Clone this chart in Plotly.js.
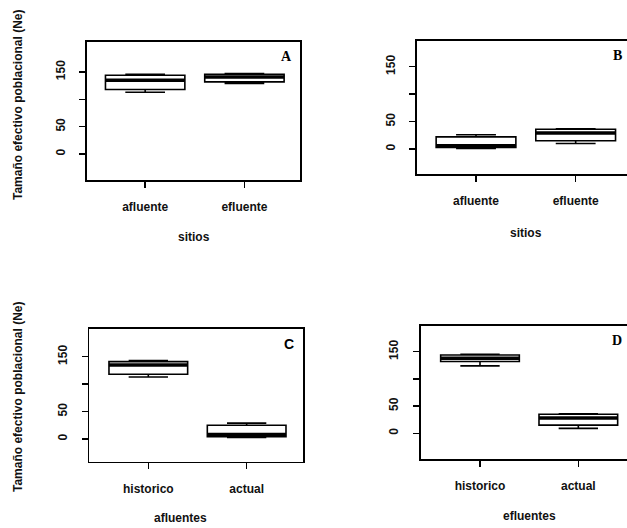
<!DOCTYPE html>
<html>
<head>
<meta charset="utf-8">
<script src="https://cdn.plot.ly/plotly-3.0.1.min.js"></script>
<style>html,body{margin:0;padding:0;background:#fff}</style>
</head>
<body>
<div id="chart" style="width:627px;height:528px"></div>
<script>
// ---- data ----
const sitios = ['afluente', 'efluente'];
const periodos = ['historico', 'actual'];
const yTickVals = [0, 50, 100, 150];
const yTickText = ['0', '50', '', '150'];

// Panel A: sitios
const A_lower = [113, 129];
const A_q1 = [118, 132];
const A_median = [135, 141];
const A_q3 = [144, 146];
const A_upper = [146, 147];

// Panel B: sitios
const B_lower = [1, 10];
const B_q1 = [3, 15];
const B_median = [6, 29];
const B_q3 = [22, 36];
const B_upper = [26, 37];

// Panel C: afluentes
const C_lower = [113, 3];
const C_q1 = [118, 4];
const C_median = [135, 8];
const C_q3 = [141, 25];
const C_upper = [143, 29];

// Panel D: efluentes
const D_lower = [124, 9];
const D_q1 = [132, 15];
const D_median = [138, 28];
const D_q3 = [144, 35];
const D_upper = [145, 36];

const panels = [
  {ax: '', cats: sitios, lower: A_lower, q1: A_q1, med: A_median, q3: A_q3, upper: A_upper,
   letter: 'A', xtitle: 'sitios', ytitle: true},
  {ax: '2', cats: sitios, lower: B_lower, q1: B_q1, med: B_median, q3: B_q3, upper: B_upper,
   letter: 'B', xtitle: 'sitios', ytitle: false},
  {ax: '3', cats: periodos, lower: C_lower, q1: C_q1, med: C_median, q3: C_q3, upper: C_upper,
   letter: 'C', xtitle: 'afluentes', ytitle: true},
  {ax: '4', cats: periodos, lower: D_lower, q1: D_q1, med: D_median, q3: D_q3, upper: D_upper,
   letter: 'D', xtitle: 'efluentes', ytitle: false}
];

// ---- layout geometry ----
const W = 627, H = 528;
const geom = [
  {x: [87, 300], y: [42, 180], xr: [0.414, 2.56], yr: [-47.6, 204.9], mirrorY: true},
  {x: [417, 627], y: [40.7, 174], xr: [0.408, 2.515], yr: [-45.6, 197.4], mirrorY: false},
  {x: [89.3, 303.3], y: [329, 461.7], xr: [0.40, 2.576], yr: [-41.4, 200.5], mirrorY: true},
  {x: [420.7, 627], y: [325.7, 459.3], xr: [0.397, 2.495], yr: [-47.8, 197.8], mirrorY: false}
];
const boxW = 0.8;
const font = {family: 'Liberation Sans, Arial, sans-serif', size: 12, color: '#111', weight: 'bold'};

const traces = [];
const layout = {
  width: W, height: H,
  margin: {l: 0, r: 0, t: 0, b: 0},
  paper_bgcolor: '#fff', plot_bgcolor: '#fff',
  showlegend: false,
  font: font,
  annotations: []
};

panels.forEach((p, i) => {
  const g = geom[i];
  const xa = 'x' + p.ax, ya = 'y' + p.ax;
  const pos = p.cats.map((c, k) => k + 1);
  traces.push({
    type: 'box', xaxis: xa, yaxis: ya,
    x: pos, lowerfence: p.lower, q1: p.q1, median: p.med, q3: p.q3, upperfence: p.upper,
    width: boxW, whiskerwidth: 0.5,
    fillcolor: '#fff', line: {color: '#000', width: 1.6},
    hoverinfo: 'skip'
  });
  // thick median line (R boxplot style)
  const mx = [], my = [];
  pos.forEach((v, k) => { mx.push(v - boxW / 2, v + boxW / 2, null); my.push(p.med[k], p.med[k], null); });
  traces.push({type: 'scatter', mode: 'lines', xaxis: xa, yaxis: ya, x: mx, y: my,
    line: {color: '#000', width: 3.5}, hoverinfo: 'skip'});

  const xdom = [g.x[0] / W, g.x[1] / W];
  const ydom = [1 - g.y[1] / H, 1 - g.y[0] / H];
  layout['xaxis' + p.ax] = {
    domain: xdom, range: g.xr, anchor: ya,
    tickvals: pos, ticktext: p.cats,
    showline: true, mirror: true, linecolor: '#000', linewidth: 1.6,
    ticks: 'outside', ticklen: 6, tickwidth: 1.5, tickcolor: '#000',
    ticklabelstandoff: 9,
    showgrid: false, zeroline: false, fixedrange: true, tickfont: font
  };
  layout['yaxis' + p.ax] = {
    domain: ydom, range: g.yr, anchor: xa,
    tickvals: yTickVals, ticktext: yTickText, tickangle: -90,
    showline: true, mirror: g.mirrorY, linecolor: '#000', linewidth: 1.6,
    ticks: 'outside', ticklen: 6, tickwidth: 1.5, tickcolor: '#000',
    ticklabelstandoff: 10,
    showgrid: false, zeroline: false, fixedrange: true, tickfont: font
  };
  // panel letter
  layout.annotations.push({
    xref: 'paper', yref: 'paper', x: (g.x[1] - (i % 2 === 0 ? 14 : 10)) / W, y: 1 - (g.y[0] + 15) / H,
    text: p.letter, showarrow: false, xanchor: 'center', yanchor: 'middle',
    font: {family: p.letter === 'C' ? 'Liberation Sans, Arial, sans-serif' : 'Liberation Serif, Times New Roman, serif',
           size: 14, color: '#000', weight: 'bold'}
  });
  // x title
  layout.annotations.push({
    xref: 'paper', yref: 'paper',
    x: (i === 2 ? 180 : (i === 3 ? 529 : (i === 1 ? 526 : 194))) / W,
    y: 1 - [237, 233, 518, 516][i] / H,
    text: p.xtitle, showarrow: false, xanchor: 'center', yanchor: 'middle', font: font
  });
  if (p.ytitle) {
    layout.annotations.push({
      xref: 'paper', yref: 'paper', x: 18 / W, y: 1 - (i === 0 ? 105 : 397) / H,
      text: 'Tamaño efectivo poblacional (Ne)', textangle: -90, showarrow: false,
      xanchor: 'center', yanchor: 'middle',
      font: {family: 'Liberation Sans, Arial, sans-serif', size: 12, color: '#111', weight: 'bold'}
    });
  }
});

Plotly.newPlot('chart', traces, layout, {staticPlot: true, displayModeBar: false});
</script>
</body>
</html>
